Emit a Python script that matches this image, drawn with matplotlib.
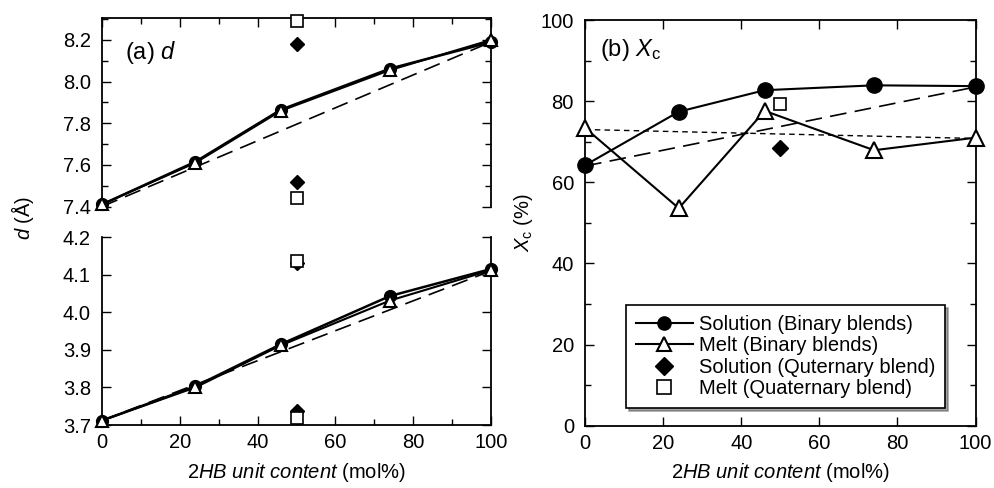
import matplotlib
matplotlib.use("Agg")
import matplotlib.pyplot as plt
from matplotlib.ticker import MultipleLocator, FormatStrFormatter

plt.rcParams['font.family'] = ['Liberation Sans', 'DejaVu Sans']
plt.rcParams['mathtext.fontset'] = 'custom'
plt.rcParams['mathtext.rm'] = 'Liberation Sans'
plt.rcParams['mathtext.it'] = 'Liberation Sans:italic'
plt.rcParams['mathtext.bf'] = 'Liberation Sans:bold'

# ---- data ----
x_bin = [0, 24, 46, 74, 100]
x_quat = [50]

# (a) d spacing, upper reflection
d_hi_sol = [7.41, 7.615, 7.865, 8.062, 8.19]
d_hi_melt = [7.41, 7.61, 7.86, 8.055, 8.20]
d_hi_quat_sol = [8.18, 7.517]
d_hi_quat_melt = [8.29, 7.442]
d_hi_dash = [7.40, 8.19]

# (a) d spacing, lower reflection
d_lo_sol = [3.712, 3.803, 3.915, 4.043, 4.115]
d_lo_melt = [3.712, 3.80, 3.912, 4.031, 4.112]
d_lo_quat_sol = [4.13, 3.738]
d_lo_quat_melt = [4.135, 3.72]
d_lo_dash = [3.712, 4.11]

# (b) crystallinity
xc_sol = [64.2, 77.4, 82.7, 83.9, 83.7]
xc_melt = [73.4, 53.6, 77.6, 67.9, 71.0]
xc_quat_sol = [68.5]
xc_quat_melt = [79.2]
xc_dash_long = [64.0, 83.5]
xc_dash_short = [73.0, 70.8]
dash_x = [0, 100]

FS = 14.5
FS_PANEL = 17

fig = plt.figure(figsize=(9.95, 4.88), dpi=100)
ax_hi = fig.add_axes([0.1025, 0.5768, 0.391, 0.3862])
ax_lo = fig.add_axes([0.1025, 0.1290, 0.391, 0.3853])
ax_b = fig.add_axes([0.5880, 0.1277, 0.3925, 0.8313])

def style(ax):
    ax.tick_params(direction='in', which='both', top=True, right=True,
                   labelsize=FS, width=1.0)
    ax.tick_params(axis='x', pad=6)
    ax.tick_params(axis='y', pad=8)
    ax.tick_params(which='major', length=6.5)
    ax.tick_params(which='minor', length=4)
    for s in ax.spines.values():
        s.set_linewidth(1.3)

ms_a = 8.5
for ax, sol, melt, qs, qm, dash in [
        (ax_hi, d_hi_sol, d_hi_melt, d_hi_quat_sol, d_hi_quat_melt, d_hi_dash),
        (ax_lo, d_lo_sol, d_lo_melt, d_lo_quat_sol, d_lo_quat_melt, d_lo_dash)]:
    ax.plot(dash_x, dash, color='black', lw=1.2, dashes=(10, 5), zorder=2)
    ax.plot(x_bin, sol, color='black', lw=1.8, marker='o', ms=ms_a,
            mfc='black', mec='black', zorder=3, clip_on=False)
    ax.plot(x_bin, melt, color='black', lw=1.5, marker='^', ms=ms_a + 0.5,
            mfc='white', mec='black', mew=1.5, zorder=4, clip_on=False)
    ax.plot(x_quat * len(qs), qs, ls='none', marker='D', ms=ms_a - 1.5,
            mfc='black', mec='black', zorder=5, clip_on=False)
    ax.plot(x_quat * len(qm), qm, ls='none', marker='s', ms=ms_a - 0.5,
            mfc='white', mec='black', mew=1.2, zorder=6, clip_on=False)
    ax.set_xlim(0, 100)
    ax.xaxis.set_major_locator(MultipleLocator(20))
    ax.xaxis.set_minor_locator(MultipleLocator(10))
    style(ax)

ax_hi.set_ylim(7.4, 8.305)
ax_hi.yaxis.set_major_locator(MultipleLocator(0.2))
ax_hi.yaxis.set_minor_locator(MultipleLocator(0.1))
ax_hi.spines['bottom'].set_visible(False)
ax_hi.tick_params(which='both', bottom=False, labelbottom=False)
ax_hi.yaxis.set_major_formatter(FormatStrFormatter('%.1f'))

ax_lo.set_ylim(3.7, 4.2)
ax_lo.yaxis.set_major_locator(MultipleLocator(0.1))
ax_lo.spines['top'].set_visible(False)
ax_lo.tick_params(which='both', top=False)
ax_lo.yaxis.set_major_formatter(FormatStrFormatter('%.1f'))
ax_lo.set_xlabel(r'$\mathit{2HB\ unit\ content}$ (mol%)', fontsize=FS, labelpad=6)

ax_hi.text(0.058, 0.815, r'(a) $\mathit{d}$', transform=ax_hi.transAxes,
           fontsize=FS_PANEL, va='center')
fig.text(0.023, 0.553, r'$\mathit{d}$ (Å)', rotation=90, fontsize=FS,
         va='center', ha='center')

# (b)
ms_b = 11
ax_b.plot(dash_x, xc_dash_long, color='black', lw=1.2, dashes=(10, 5), zorder=2)
ax_b.plot(dash_x, xc_dash_short, color='black', lw=1.0, dashes=(4, 3), zorder=2)
ax_b.plot(x_bin, xc_sol, color='black', lw=1.5, marker='o', ms=ms_b,
          mfc='black', mec='black', zorder=3, clip_on=False,
          label='Solution (Binary blends)')
ax_b.plot(x_bin, xc_melt, color='black', lw=1.5, marker='^', ms=ms_b + 0.5,
          mfc='white', mec='black', mew=1.5, zorder=4, clip_on=False,
          label='Melt (Binary blends)')
ax_b.plot(x_quat, xc_quat_sol, ls='none', marker='D', ms=ms_b - 3,
          mfc='black', mec='black', zorder=5, clip_on=False,
          label='Solution (Quternary blend)')
ax_b.plot(x_quat, xc_quat_melt, ls='none', marker='s', ms=ms_b - 2,
          mfc='white', mec='black', mew=1.2, zorder=6, clip_on=False,
          label='Melt (Quaternary blend)')
ax_b.set_xlim(0, 100)
ax_b.set_ylim(0, 100)
ax_b.xaxis.set_major_locator(MultipleLocator(20))
ax_b.yaxis.set_major_locator(MultipleLocator(20))
ax_b.yaxis.set_minor_locator(MultipleLocator(10))
style(ax_b)
ax_b.set_xlabel(r'$\mathit{2HB\ unit\ content}$ (mol%)', fontsize=FS, labelpad=6)
ax_b.set_ylabel(r'$\mathit{X}_{\rm c}$ (%)', fontsize=FS, labelpad=4)
ax_b.text(0.038, 0.925, r'(b) $\mathit{X}_{\rm c}$', transform=ax_b.transAxes,
          fontsize=FS_PANEL, va='center')

leg = ax_b.legend(loc='upper left', bbox_to_anchor=(0.105, 0.298),
                  fontsize=FS, frameon=True, fancybox=False, shadow=True,
                  handlelength=2.8, handletextpad=0.3, borderpad=0.5,
                  labelspacing=0.12, borderaxespad=0)
leg.get_frame().set_edgecolor('black')
leg.get_frame().set_linewidth(1.2)
for h in leg.legend_handles:
    h.set_markersize(9.5)

fig.savefig('out.png', dpi=100)
